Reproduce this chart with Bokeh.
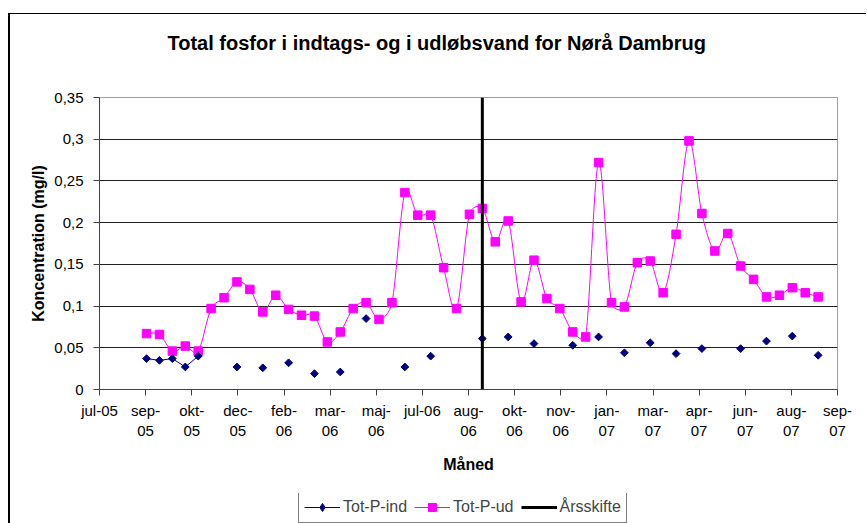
import numpy as np
import pandas as pd
from bokeh.plotting import figure
from bokeh.layouts import column
from bokeh.models import FixedTicker, Legend, LegendItem
from bokeh.embed import file_html
from bokeh.resources import INLINE

# ---------------- data ----------------
dates = [
    "2005-09-06", "2005-09-20", "2005-10-04", "2005-10-18", "2005-11-01", "2005-11-15",
    "2005-11-29", "2005-12-13", "2005-12-27", "2006-01-10", "2006-01-24", "2006-02-07",
    "2006-02-21", "2006-03-07", "2006-03-21", "2006-04-04", "2006-04-18", "2006-05-02",
    "2006-05-16", "2006-05-30", "2006-06-13", "2006-06-27", "2006-07-11", "2006-07-25",
    "2006-08-08", "2006-08-22", "2006-09-05", "2006-09-19", "2006-10-03", "2006-10-17",
    "2006-10-31", "2006-11-14", "2006-11-28", "2006-12-12", "2006-12-26", "2007-01-09",
    "2007-01-23", "2007-02-06", "2007-02-20", "2007-03-06", "2007-03-20", "2007-04-03",
    "2007-04-17", "2007-05-01", "2007-05-15", "2007-05-29", "2007-06-12", "2007-06-26",
    "2007-07-10", "2007-07-24", "2007-08-07", "2007-08-21", "2007-09-04",
]
tot_p_ind = [
    0.037, 0.035, 0.037, 0.027, 0.040, None, None, 0.027, None, 0.026,
    None, 0.032, None, 0.019, None, 0.021, None, 0.085, None, None,
    0.027, None, 0.040, None, None, None, 0.061, None, 0.063, None,
    0.055, None, None, 0.053, None, 0.063, None, 0.044, None, 0.056,
    None, 0.043, None, 0.049, None, None, 0.049, None, 0.058, None,
    0.064, None, 0.041,
]
tot_p_ud = [
    0.067, 0.066, 0.046, 0.052, 0.046, 0.097, 0.110, 0.129, 0.120, 0.093,
    0.113, 0.096, 0.089, 0.088, 0.057, 0.069, 0.097, 0.104, 0.084, 0.104,
    0.236, 0.209, 0.209, 0.146, 0.097, 0.210, 0.217, 0.177, 0.202, 0.105,
    0.155, 0.109, 0.097, 0.069, 0.063, 0.272, 0.104, 0.099, 0.152, 0.154,
    0.116, 0.186, 0.298, 0.211, 0.166, 0.187, 0.148, 0.132, 0.111, 0.113,
    0.122, 0.116, 0.111,
]
aarsskifte_dates = ["2006-09-05", "2006-09-05"]
aarsskifte_values = [0.0, 0.35]

x_tick_dates = [
    "2005-07-17", "2005-09-05", "2005-10-25", "2005-12-14", "2006-02-02", "2006-03-24",
    "2006-05-13", "2006-07-02", "2006-08-21", "2006-10-10", "2006-11-29", "2007-01-18",
    "2007-03-09", "2007-04-28", "2007-06-17", "2007-08-06", "2007-09-25",
]
x_tick_labels = [
    "jul-05", "sep-\n05", "okt-\n05", "dec-\n05", "feb-\n06", "mar-\n06", "maj-\n06",
    "jul-06", "aug-\n06", "okt-\n06", "nov-\n06", "jan-\n07", "mar-\n07", "apr-\n07",
    "jun-\n07", "aug-\n07", "sep-\n07",
]
y_ticks = [0.0, 0.05, 0.10, 0.15, 0.20, 0.25, 0.30, 0.35]
y_tick_labels = ["0", "0,05", "0,1", "0,15", "0,2", "0,25", "0,3", "0,35"]

title_text = "Total fosfor i indtags- og i udløbsvand for Nørå Dambrug"
x_label = "Måned"
y_label = "Koncentration (mg/l)"
legend_labels = ["Tot-P-ind", "Tot-P-ud", "Årsskifte"]

# ---------------- helpers ----------------
EPOCH = pd.Timestamp("1970-01-01")


def to_ms(ds):
    return [float((pd.Timestamp(d) - EPOCH) / pd.Timedelta(milliseconds=1)) for d in ds]


x = np.array(to_ms(dates))
ind = np.array([np.nan if v is None else v for v in tot_p_ind], dtype=float)
ud = np.array(tot_p_ud, dtype=float)
x_ticks = to_ms(x_tick_dates)

FONT = "Liberation Sans"
IND_C, UD_C = "#000080", "#ff00ff"
W, H = 856, 479
ML, MR, MT = 89, 29, 83
FRAME_H = 292
MB = H - MT - FRAME_H
FRAME_W = W - ML - MR

p = figure(
    width=W, height=H,
    x_range=(x_ticks[0], x_ticks[-1]), y_range=(0, 0.35),
    output_backend="svg", toolbar_location=None,
    min_border_left=ML, min_border_right=MR, min_border_top=MT, min_border_bottom=MB,
)

# title (a blank second line keeps it clear of the plot area)
p.title.text = title_text + "\n"
p.title.text_font = FONT
p.title.text_font_size = "20px"
p.title.text_font_style = "bold"
p.title.text_color = "black"
p.title.text_line_height = 1.5
p.title.align = "left"
p.title.offset = 68
p.title.standoff = 21

p.background_fill_color = "white"
p.border_fill_color = "white"
p.outline_line_color = "#a0a0a0"
p.outline_line_width = 1

# axes
xa = p.xaxis[0]
xa.ticker = FixedTicker(ticks=x_ticks)
xa.major_label_overrides = {t: l for t, l in zip(x_ticks, x_tick_labels)}
ya = p.yaxis[0]
ya.ticker = FixedTicker(ticks=y_ticks)
ya.major_label_overrides = {t: l for t, l in zip(y_ticks, y_tick_labels)}
for ax in (xa, ya):
    ax.axis_line_color = "#404040"
    ax.major_tick_line_color = "#404040"
    ax.minor_tick_line_color = None
    ax.major_tick_in = 0
    ax.major_tick_out = 6
    ax.major_label_text_font = FONT
    ax.major_label_text_font_size = "15px"
    ax.major_label_text_color = "black"
    ax.axis_label_text_font = FONT
    ax.axis_label_text_font_size = "16px"
    ax.axis_label_text_font_style = "bold"
    ax.axis_label_text_color = "black"
xa.axis_label = x_label
ya.axis_label = y_label
xa.major_label_standoff = 6
ya.major_label_standoff = 10
xa.axis_label_standoff = 14
ya.axis_label_standoff = 4

p.xgrid.grid_line_color = None
p.ygrid.ticker = FixedTicker(ticks=y_ticks[1:-1])
p.ygrid.grid_line_color = "#202020"
p.ygrid.grid_line_width = 1

# smoothed line for Tot-P-ud, Excel-style Bezier smoothing computed in pixel space
sx = FRAME_W / (x_ticks[-1] - x_ticks[0])
sy = FRAME_H / 0.35
px = x * sx
py = ud * sy
n = len(ud)
seg = {k: [] for k in ("x0", "y0", "x1", "y1", "cx0", "cy0", "cx1", "cy1")}
for i in range(n - 1):
    a, b, c = max(i - 1, 0), i + 1, min(i + 2, n - 1)
    P0, P1, P2, P3 = (np.array([px[j], py[j]]) for j in (a, i, b, c))
    d12 = np.hypot(*(P2 - P1))
    d02 = np.hypot(*(P2 - P0))
    d13 = np.hypot(*(P3 - P1))
    f0 = min(1 / 6, d12 / (2 * d02)) if d02 > 0 else 0
    f1 = min(1 / 6, d12 / (2 * d13)) if d13 > 0 else 0
    C1 = P1 + (P2 - P0) * f0
    C2 = P2 - (P3 - P1) * f1
    seg["x0"].append(x[i]); seg["y0"].append(ud[i])
    seg["x1"].append(x[b]); seg["y1"].append(ud[b])
    seg["cx0"].append(C1[0] / sx); seg["cy0"].append(C1[1] / sy)
    seg["cx1"].append(C2[0] / sx); seg["cy1"].append(C2[1] / sy)
p.bezier(line_color=UD_C, line_width=1, **seg)
p.scatter(x=x, y=ud, marker="square", size=8.5, fill_color=UD_C, line_color=UD_C)

p.line(x=x, y=ind, line_color=IND_C, line_width=1)
p.scatter(x=x, y=ind, marker="square", angle=np.pi / 4, size=5.5, fill_color=IND_C, line_color=IND_C)

p.line(x=to_ms(aarsskifte_dates), y=aarsskifte_values, line_color="black", line_width=3)

# ---------------- legend (own full-width strip below the chart) ----------------
lp = figure(width=W, height=30, x_range=(0, 1), y_range=(0, 1),
            x_axis_location=None, y_axis_location=None,
            output_backend="svg", toolbar_location=None,
            min_border_left=0, min_border_right=0, min_border_top=0, min_border_bottom=0)
lp.grid.visible = False
lp.outline_line_color = None
lp.background_fill_color = "white"
lp.border_fill_color = "white"
off = [5, 6]  # proxies outside the visible range: only their legend glyphs show
r_ind_l = lp.line(x=off, y=off, line_color=IND_C, line_width=1)
r_ind_m = lp.scatter(x=off[:1], y=off[:1], marker="diamond", size=9, fill_color=IND_C, line_color=IND_C)
r_ud_l = lp.line(x=off, y=off, line_color=UD_C, line_width=1)
r_ud_m = lp.scatter(x=off[:1], y=off[:1], marker="square", size=8, fill_color=UD_C, line_color=UD_C)
r_aars = lp.line(x=off, y=off, line_color="black", line_width=3)
legend = Legend(
    items=[
        LegendItem(label=legend_labels[0], renderers=[r_ind_l, r_ind_m]),
        LegendItem(label=legend_labels[1], renderers=[r_ud_l, r_ud_m]),
        LegendItem(label=legend_labels[2], renderers=[r_aars]),
    ],
    orientation="horizontal",
    location=(199, 0),
    label_text_font=FONT, label_text_font_size="16px",
    glyph_width=36, glyph_height=20, label_height=20, label_standoff=3, spacing=7,
    padding=5, margin=0,
    border_line_color="black", border_line_width=1,
    background_fill_color="white", background_fill_alpha=1,
)
lp.add_layout(legend, "center")

layout = column(p, lp, spacing=0)
layout.styles = {"border-left": "2px solid black", "border-top": "1px solid black",
                 "margin-top": "13px", "margin-left": "8px"}

open("out.html", "w").write(file_html(layout, INLINE))
